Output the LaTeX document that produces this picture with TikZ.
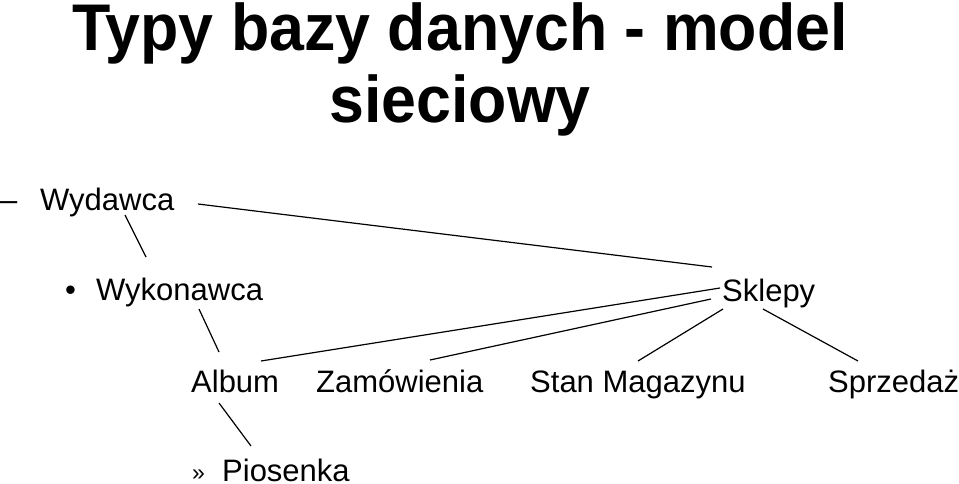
\documentclass[tikz,border=0pt]{standalone}
\usepackage{fontspec}
\usepackage{graphicx}
\setmainfont{Liberation Sans}
\begin{document}
\begin{tikzpicture}[x=1pt,y=-1pt,
  lbl/.style={anchor=base west,inner sep=0pt,font=\fontsize{31}{36}\selectfont},
  ttl/.style={anchor=base,inner sep=0pt,font=\fontsize{66}{72}\selectfont\bfseries},
  link/.style={line width=1.2pt,black}]
\useasboundingbox (0,0) rectangle (959,483);
% title
\node[ttl] (t1) at (460,50) {\scalebox{0.95}[1]{Typy bazy danych - model}};
\node[ttl] (t2) at (460,122) {\scalebox{0.95}[1]{sieciowy}};
% bullets
\node[lbl] (b1) at (0,210) {–};
\node[lbl] (b2) at (65,300) {•};
\node[anchor=base west,inner sep=0pt,font=\fontsize{23}{26}\selectfont] (b3) at (192,480) {»};
% texts
\node[lbl] (wyd) at (40,210) {Wydawca};
\node[lbl] (wyk) at (96,300) {Wykonawca};
\node[lbl] (skl) at (722,301) {Sklepy};
\node[lbl] (alb) at (191,392) {Album};
\node[lbl] (zam) at (316,392) {Zamówienia};
\node[lbl] (stan) at (530,392) {Stan Magazynu};
\node[lbl] (spr) at (828,392) {Sprzedaż};
\node[lbl] (pio) at (222,481) {Piosenka};
% connector ends
\coordinate (wydR) at (198,204);
\coordinate (sklA) at (712,267);
\coordinate (wydB) at (125,215);
\coordinate (wykT) at (146,257);
\coordinate (wykB) at (199,309);
\coordinate (albT) at (219,352);
\coordinate (albB) at (219,403);
\coordinate (pioT) at (251,446);
\coordinate (albR) at (261,361);
\coordinate (sklB) at (720,288);
\coordinate (zamT) at (430,360);
\coordinate (sklC) at (711,299);
\coordinate (stanT) at (638,361);
\coordinate (sklD) at (723,309);
\coordinate (sprT) at (858,361);
\coordinate (sklE) at (763,309);
\draw[link] (wydR) -- (sklA);
\draw[link] (wydB) -- (wykT);
\draw[link] (wykB) -- (albT);
\draw[link] (albB) -- (pioT);
\draw[link] (albR) -- (sklB);
\draw[link] (zamT) -- (sklC);
\draw[link] (stanT) -- (sklD);
\draw[link] (sprT) -- (sklE);
\end{tikzpicture}
\end{document}
